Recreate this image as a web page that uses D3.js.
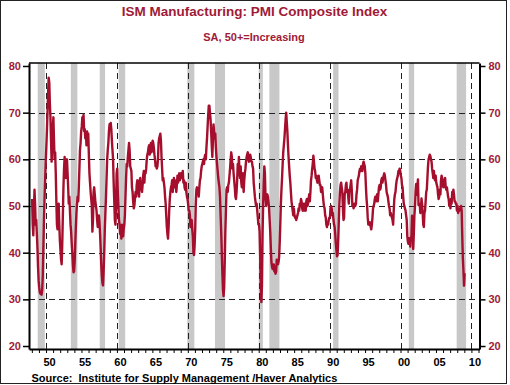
<!DOCTYPE html>
<html>
<head>
<meta charset="utf-8">
<script src="https://cdn.jsdelivr.net/npm/d3@7"></script>
<style>
  html, body { margin: 0; padding: 0; background: #fff; }
  svg { display: block; }
  text { font-family: "Liberation Sans", Arial, Helvetica, sans-serif; font-weight: bold; }
</style>
</head>
<body>
<script>
// ---------------- DATA ----------------
const titleText = "ISM Manufacturing: PMI Composite Index";
const subtitleText = "SA, 50+=Increasing";
const sourceText = "Source:  Institute for Supply Management /Haver Analytics";

const startYear = 1948; // monthly values start Jan 1948
const pmiMonthly = [
  // 1948
  51.5, 46.0, 43.7, 49.0, 53.5, 50.5, 46.0, 47.0, 44.0, 41.0, 37.0, 34.0,
  // 1949
  32.5, 31.5, 31.2, 31.4, 31.0, 32.0, 35.0, 41.0, 47.0, 51.5, 55.5, 59.5,
  // 1950
  62.5, 66.0, 70.0, 74.0, 77.5, 76.5, 72.0, 69.0, 64.0, 59.5, 63.0, 67.0,
  // 1951
  69.0, 64.0, 60.0, 61.5, 57.0, 51.0, 46.0, 45.0, 49.0, 50.5, 46.0, 42.5,
  // 1952
  40.5, 38.5, 37.5, 42.0, 48.0, 54.0, 58.0, 60.5, 58.0, 56.0, 59.0, 60.0,
  // 1953
  57.0, 54.0, 50.5, 52.0, 49.0, 46.0, 44.5, 42.0, 40.0, 37.5, 35.8, 36.0,
  // 1954
  38.0, 42.0, 45.5, 48.5, 50.5, 52.0, 51.0, 54.0, 58.0, 62.0, 63.5, 66.0,
  // 1955
  67.0, 69.0, 68.5, 69.5, 66.0, 66.5, 64.5, 65.5, 63.0, 66.0, 64.5, 65.5,
  // 1956
  61.0, 57.0, 55.0, 53.0, 51.5, 50.0, 44.5, 47.0, 53.0, 54.0, 52.5, 51.0,
  // 1957
  50.0, 49.0, 47.0, 45.5, 46.0, 48.0, 46.5, 44.0, 41.0, 37.5, 35.0, 33.5,
  // 1958
  33.0, 36.0, 40.0, 45.0, 48.5, 52.0, 56.0, 60.0, 62.0, 63.5, 66.0, 67.5,
  // 1959
  67.0, 67.8, 66.5, 64.0, 62.0, 60.0, 55.0, 51.0, 47.0, 46.0, 50.0, 57.0,
  // 1960
  58.0, 53.0, 50.0, 47.0, 46.0, 44.0, 45.5, 43.0, 46.0, 44.5, 43.5, 45.0,
  // 1961
  46.0, 48.0, 52.0, 56.0, 59.0, 58.5, 60.5, 62.0, 63.5, 62.0, 58.5, 58.0,
  // 1962
  57.5, 54.0, 53.0, 51.0, 49.5, 50.0, 51.5, 53.0, 52.0, 54.5, 55.5, 54.0,
  // 1963
  53.0, 52.0, 55.5, 56.0, 53.5, 55.0, 53.0, 54.5, 56.5, 57.5, 55.0, 57.5,
  // 1964
  57.0, 58.0, 60.0, 61.0, 61.5, 62.5, 63.0, 61.0, 62.5, 63.5, 61.5, 62.0,
  // 1965
  64.0, 63.5, 62.5, 61.0, 60.0, 58.5, 59.0, 58.0, 58.5, 60.0, 63.5, 64.5,
  // 1966
  65.0, 65.5, 64.0, 60.5, 58.0, 55.5, 56.0, 55.0, 54.0, 52.0, 50.5, 48.0,
  // 1967
  45.5, 44.0, 43.0, 45.5, 49.0, 51.5, 53.0, 54.0, 54.5, 55.5, 53.0, 55.0,
  // 1968
  56.0, 54.0, 55.5, 55.0, 53.0, 54.5, 56.5, 55.0, 56.0, 57.0, 55.5, 56.5,
  // 1969
  57.0, 56.0, 56.5, 57.5, 55.0, 55.5, 54.0, 53.5, 55.0, 53.0, 52.0, 51.5,
  // 1970
  50.5, 49.0, 49.0, 48.0, 45.5, 46.5, 47.0, 45.0, 43.5, 40.0, 39.5, 41.5,
  // 1971
  45.0, 50.5, 53.5, 54.0, 53.0, 53.5, 52.0, 54.0, 55.5, 56.0, 57.5, 58.5,
  // 1972
  59.0, 59.5, 60.0, 59.0, 60.5, 61.0, 60.0, 62.5, 64.5, 67.0, 69.5, 71.5,
  // 1973
  71.5, 70.0, 68.5, 66.0, 63.0, 60.5, 64.0, 67.5, 66.0, 64.5, 65.5, 62.5,
  // 1974
  60.5, 59.0, 57.5, 56.0, 55.0, 54.0, 52.0, 48.0, 44.5, 40.0, 35.5, 32.0,
  // 1975
  30.7, 32.5, 38.0, 44.5, 49.0, 53.5, 54.0, 53.0, 54.5, 55.0, 56.5, 58.0,
  // 1976
  60.0, 61.5, 60.5, 58.0, 59.0, 57.0, 55.5, 54.0, 52.0, 51.5, 53.0, 55.5,
  // 1977
  59.0, 57.5, 60.5, 57.0, 56.0, 58.5, 55.0, 54.0, 56.5, 57.0, 53.0, 55.5,
  // 1978
  57.0, 58.0, 59.5, 60.5, 61.0, 61.5, 60.0, 59.5, 60.5, 61.0, 60.5, 59.5,
  // 1979
  59.5, 58.5, 58.0, 55.0, 53.5, 52.0, 51.0, 50.0, 50.5, 49.0, 47.5, 46.0,
  // 1980
  46.0, 44.5, 39.0, 33.0, 29.4, 33.0, 44.0, 50.5, 55.0, 58.5, 57.0, 52.0,
  // 1981
  50.0, 51.5, 52.5, 52.0, 51.0, 49.5, 47.0, 44.5, 41.0, 38.0, 37.0, 36.5,
  // 1982
  36.5, 37.5, 36.0, 36.0, 35.5, 36.0, 38.5, 38.0, 37.5, 38.0, 39.0, 42.0,
  // 1983
  46.0, 50.5, 53.5, 56.0, 59.0, 61.5, 63.0, 64.5, 66.5, 68.5, 70.0, 68.0,
  // 1984
  66.0, 63.0, 60.5, 58.5, 56.5, 55.0, 53.0, 51.0, 50.0, 49.0, 48.0, 49.5,
  // 1985
  48.0, 47.5, 47.5, 47.0, 47.5, 48.0, 48.5, 49.5, 49.0, 50.5, 50.0, 51.5,
  // 1986
  51.0, 49.5, 49.0, 50.5, 49.0, 50.5, 49.5, 49.0, 51.0, 51.5, 50.0, 50.5,
  // 1987
  51.5, 52.5, 51.0, 53.0, 55.5, 56.5, 58.0, 59.0, 60.8, 59.5, 58.0, 57.5,
  // 1988
  56.0, 56.5, 55.5, 55.0, 55.5, 56.5, 55.5, 54.5, 54.5, 53.0, 53.5, 54.0,
  // 1989
  52.5, 51.0, 50.0, 49.5, 48.0, 47.5, 46.0, 45.5, 46.5, 46.0, 47.0, 47.5,
  // 1990
  47.5, 49.5, 50.0, 49.5, 48.0, 48.5, 47.0, 46.0, 45.5, 44.0, 42.0, 40.5,
  // 1991
  39.2, 39.5, 42.5, 46.5, 50.5, 53.0, 54.5, 55.0, 54.0, 53.0, 49.5, 47.0,
  // 1992
  47.5, 52.5, 53.0, 54.5, 55.0, 53.0, 53.5, 52.0, 50.5, 53.0, 53.5, 54.5,
  // 1993
  55.5, 53.5, 50.0, 50.5, 49.5, 50.0, 50.5, 50.0, 50.5, 52.5, 53.5, 55.5,
  // 1994
  56.0, 56.5, 57.5, 58.0, 57.5, 58.5, 58.0, 57.5, 59.0, 59.5, 59.0, 58.5,
  // 1995
  57.0, 54.0, 51.5, 50.0, 47.5, 46.0, 46.5, 46.0, 46.5, 45.5, 45.0, 46.0,
  // 1996
  47.5, 49.5, 50.0, 50.5, 51.5, 52.0, 51.0, 52.0, 52.5, 51.0, 52.5, 54.0,
  // 1997
  54.5, 53.5, 54.0, 55.5, 56.0, 55.0, 56.0, 56.5, 57.0, 56.5, 55.5, 54.5,
  // 1998
  53.0, 52.5, 52.0, 51.0, 50.0, 49.5, 48.0, 48.5, 48.0, 47.5, 47.0, 46.0,
  // 1999
  49.0, 51.5, 52.5, 53.0, 54.5, 55.5, 56.0, 56.5, 57.5, 57.5, 58.0, 57.5,
  // 2000
  56.5, 56.0, 54.5, 54.0, 52.0, 50.5, 50.0, 49.5, 49.0, 48.0, 47.0, 43.5,
  // 2001
  42.3, 41.9, 43.1, 42.7, 41.3, 43.2, 43.5, 47.9, 46.5, 40.8, 44.0, 48.0,
  // 2002
  49.9, 53.1, 54.7, 52.4, 53.1, 55.7, 50.2, 50.3, 50.5, 48.5, 49.2, 51.6,
  // 2003
  50.5, 48.5, 46.0, 45.5, 48.5, 49.0, 51.0, 53.0, 53.5, 56.0, 58.5, 60.0,
  // 2004
  60.5, 61.0, 60.7, 60.0, 59.5, 58.0, 57.0, 56.0, 57.5, 56.0, 55.5, 56.5,
  // 2005
  55.0, 54.5, 54.0, 52.5, 51.5, 52.0, 53.5, 52.5, 55.5, 56.5, 56.0, 55.0,
  // 2006
  54.0, 55.0, 55.5, 56.0, 54.0, 53.5, 54.0, 53.0, 52.0, 51.5, 50.0, 51.0,
  // 2007
  49.5, 51.5, 50.5, 53.0, 52.5, 53.5, 52.5, 51.0, 51.0, 50.5, 50.5, 49.0,
  // 2008
  50.0, 48.5, 49.0, 49.0, 49.5, 49.5, 50.0, 49.0, 43.5, 38.9, 36.2, 32.9,
  // 2009
  35.6
];

// NBER recessions [start, end] in fractional years
const recessionStarts = [1948.83, 1953.5, 1957.58, 1960.25, 1969.92, 1973.83, 1980.0, 1981.5, 1990.5, 2001.17, 2007.92];
const recessionEnds   = [1949.83, 1954.42, 1958.33, 1961.17, 1970.92, 1975.25, 1980.58, 1982.92, 1991.25, 2001.92, 2009.25];

const yTicks = [20, 30, 40, 50, 60, 70, 80];
const yGrid = [30, 40, 50, 60, 70];
const xGridYears = [1950, 1960, 1970, 1980, 1990, 2000, 2010];
const xLabelYears = [1950, 1955, 1960, 1965, 1970, 1975, 1980, 1985, 1990, 1995, 2000, 2005, 2010];
const xLabelTexts = ["50", "55", "60", "65", "70", "75", "80", "85", "90", "95", "00", "05", "10"];

// ---------------- LAYOUT ----------------
const W = 510, H = 385;
const L = 29, R = 479.5, T = 63, B = 349;
const red = "#a01a37";
const lineColor = "#a50f2d";

const svg = d3.select("body").append("svg").attr("width", W).attr("height", H);

// outer frame
svg.append("rect").attr("x", 0.5).attr("y", 0.5).attr("width", 506).attr("height", 383)
  .attr("fill", "#fff").attr("stroke", "#222").attr("stroke-width", 1);

const x = d3.scaleLinear().domain([1947.6, 2011.14]).range([L, R]);
const y = d3.scaleLinear().domain([19.36, 80.64]).range([B, T]);

// recession bars
svg.append("g").selectAll("rect").data(d3.zip(recessionStarts, recessionEnds)).join("rect")
  .attr("x", d => x(d[0])).attr("width", d => x(d[1]) - x(d[0]))
  .attr("y", T).attr("height", B - T).attr("fill", "#c8c8c8");

// grid
const grid = svg.append("g").attr("stroke", "#222").attr("stroke-width", 1).attr("stroke-dasharray", "6,4");
grid.selectAll("line.h").data(yGrid).join("line").attr("class", "h")
  .attr("x1", L).attr("x2", R).attr("y1", d => Math.round(y(d)) + 0.5).attr("y2", d => Math.round(y(d)) + 0.5);
grid.selectAll("line.v").data(xGridYears).join("line").attr("class", "v")
  .attr("y1", T).attr("y2", B).attr("x1", d => Math.round(x(d)) + 0.5).attr("x2", d => Math.round(x(d)) + 0.5);

// series
const series = pmiMonthly.map((v, i) => ({ t: startYear + (i + 0.5) / 12, v }));
svg.append("path").datum(series)
  .attr("fill", "none").attr("stroke", lineColor).attr("stroke-width", 2.4)
  .attr("stroke-linejoin", "round")
  .attr("d", d3.line().x(d => x(d.t)).y(d => y(d.v)));

// frame lines
svg.append("line").attr("x1", L).attr("x2", R).attr("y1", T).attr("y2", T).attr("stroke", "#000").attr("stroke-width", 1.5);

// axes
const yl = svg.append("g").attr("transform", `translate(${L},0)`)
  .call(d3.axisLeft(y).tickValues(yTicks).tickSize(6).tickSizeOuter(0).tickPadding(2).tickFormat(d3.format("d")));
const yr = svg.append("g").attr("transform", `translate(${R},0)`)
  .call(d3.axisRight(y).tickValues(yTicks).tickSize(6).tickSizeOuter(0).tickPadding(3).tickFormat(d3.format("d")));
[yl, yr].forEach(g => {
  g.select(".domain").attr("stroke", "#000").attr("stroke-width", 2);
  g.selectAll(".tick line").attr("stroke", "#000").attr("stroke-width", 1.5);
  g.selectAll(".tick text").attr("fill", red).style("font-size", "11px").style("font-weight", "bold")
    .style("font-family", '"Liberation Sans", Arial, sans-serif');
});

const yearTicks = d3.range(1948, 2012);
const xb = svg.append("g").attr("transform", `translate(0,${B})`)
  .call(d3.axisBottom(x).tickValues(yearTicks).tickSize(4).tickSizeOuter(0).tickFormat(""));
xb.select(".domain").attr("stroke", "#000").attr("stroke-width", 2);
xb.selectAll(".tick line").attr("stroke", "#000").attr("stroke-width", 1);

svg.append("g").selectAll("text").data(d3.zip(xLabelYears, xLabelTexts)).join("text")
  .attr("x", d => x(d[0] + 0.5)).attr("y", 365.5)
  .attr("text-anchor", "middle").attr("fill", "#000").style("font-size", "11px")
  .text(d => d[1]);

// titles
svg.append("text").attr("x", 254.5).attr("y", 15.5).attr("text-anchor", "middle")
  .attr("fill", red).style("font-size", "13.5px").text(titleText);
svg.append("text").attr("x", 254).attr("y", 40.5).attr("text-anchor", "middle")
  .attr("fill", red).style("font-size", "11px").text(subtitleText);
svg.append("text").attr("x", 31.5).attr("y", 381.5).attr("xml:space", "preserve")
  .attr("fill", "#000").style("font-size", "11px").style("white-space", "pre").text(sourceText);
</script>
</body>
</html>
